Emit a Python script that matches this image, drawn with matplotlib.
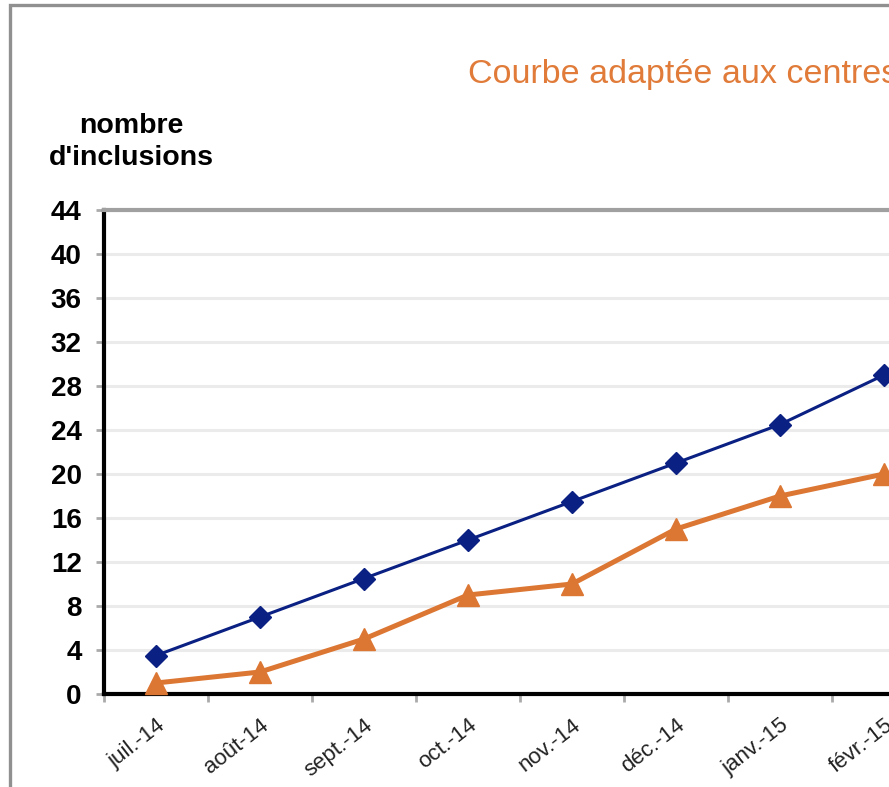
import numpy as np
import matplotlib.pyplot as plt
from matplotlib.patches import Rectangle

mois = ['juil.-14', 'août-14', 'sept.-14', 'oct.-14', 'nov.-14', 'déc.-14', 'janv.-15', 'févr.-15']
attendu = [3.5, 7, 10.5, 14, 17.5, 21, 24.5, 29]
inclusions = [1, 2, 5, 9, 10, 15, 18, 20]
yticks = np.arange(0, 45, 4)

plt.rcParams['font.family'] = ['Liberation Sans', 'DejaVu Sans']
fig = plt.figure(figsize=(8.89, 7.87), dpi=100)
W, H = 889, 787

# outer frame of the chart (cropped on the right and bottom)
fig.patches.append(Rectangle((9.5 / W, -0.1), 1.2, 1 - 5 / H + 0.1, transform=fig.transFigure,
                             fill=False, ec='#909090', lw=2.4))

ax = fig.add_axes([104 / W, 1 - 694 / H, 832 / W, 484 / H])
x = np.arange(len(mois))
ax.plot(x, attendu, color='#0a2082', lw=2.2, marker='D', ms=11, clip_on=False, zorder=3)
ax.plot(x, inclusions, color='#dc7633', lw=3.6, marker='^', ms=16, clip_on=False, zorder=3)

ax.set_xlim(-0.5, len(mois) - 0.5)
ax.set_ylim(0, 44)
ax.set_yticks(yticks)
ax.set_yticklabels([str(v) for v in yticks], fontsize=20, fontweight='bold')
ax.grid(axis='y', color='#ebebeb', lw=2.2)
ax.set_axisbelow(True)

ax.set_xticks(np.arange(-0.5, len(mois), 1))
ax.set_xticklabels([])
ax.set_xticks(x, minor=True)
ax.set_xticklabels(mois, minor=True, rotation=38, ha='right', rotation_mode='anchor',
                   fontsize=16, color='#222222')
ax.tick_params(axis='x', which='major', length=6, color='#aaaaaa', width=2)
ax.tick_params(axis='x', which='minor', length=0, pad=15)
ax.tick_params(axis='y', length=6, color='#aaaaaa', width=2, pad=10)

for s in ['left', 'bottom']:
    ax.spines[s].set_color('black')
    ax.spines[s].set_linewidth(3)
ax.spines['top'].set_color('#a0a0a0')
ax.spines['top'].set_linewidth(3)
ax.spines['right'].set_visible(False)

fig.text(131 / W, 1 - 142 / H, "nombre\nd'inclusions", ha='center', va='center',
         fontsize=20.5, fontweight='bold', linespacing=1.3)
fig.text(468 / W, 1 - 74 / H, 'Courbe adaptée aux centres', ha='left', va='center',
         fontsize=24.5, color='#e07b39')

fig.savefig('out.png', dpi=100)
